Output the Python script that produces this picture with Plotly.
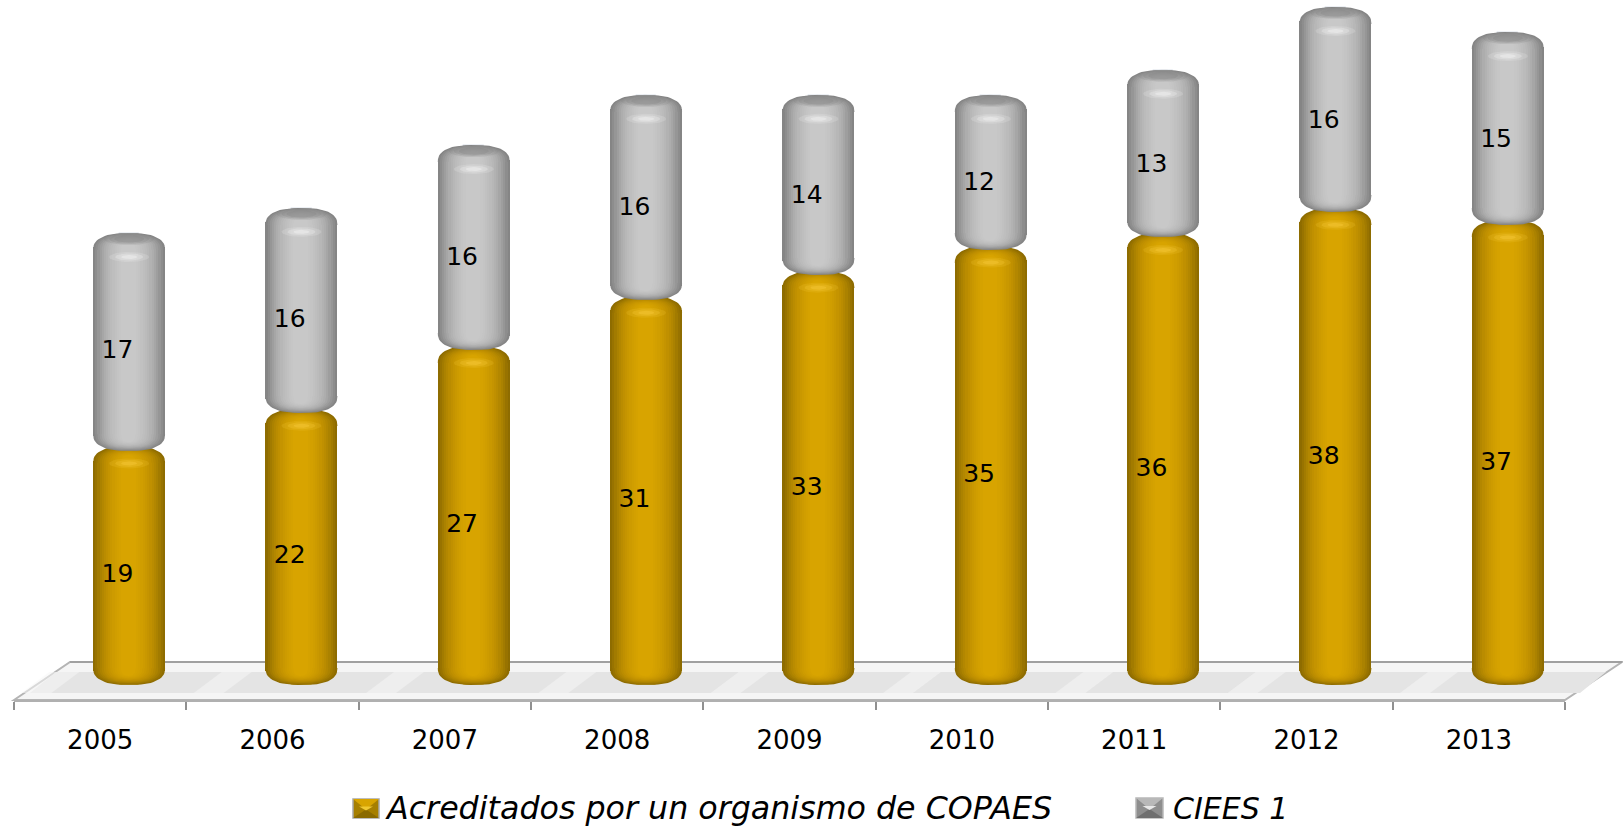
import numpy as np
import plotly.graph_objects as go

years = ["2005", "2006", "2007", "2008", "2009", "2010", "2011", "2012", "2013"]
copaes = [19, 22, 27, 31, 33, 35, 36, 38, 37]
ciees = [17, 16, 16, 16, 14, 12, 13, 16, 15]
name_copaes = "Acreditados por un organismo de COPAES"
name_ciees = "CIEES 1"

W, H = 1623, 828
L, R, AXIS_Y = 14, 1565, 700
PX_X = (R - L) / 9
PX_Y = 12.556
ZERO_PX = 685
BAR_OFF = 0.168
LABEL_OFF = 0.1
FONT = "DejaVu Sans"

orange_stops = ["#8E6C00", "#A98000", "#BC8D00", "#C99800", "#D2A000", "#D8A400"]
grey_stops = ["#858585", "#9C9C9C", "#AFAFAF", "#BBBBBB", "#C3C3C3", "#C8C8C8"]


def hex2rgb(c):
    return np.array([int(c[i:i + 2], 16) for i in (1, 3, 5)], float)


def ramp(stops, t):
    p = t * (len(stops) - 1)
    i = min(int(p), len(stops) - 2)
    c = hex2rgb(stops[i]) * (1 - (p - i)) + hex2rgb(stops[i + 1]) * (p - i)
    return "rgb(%d,%d,%d)" % tuple(c)


def snap(y):
    # keep a flat polygon edge on a whole pixel row so stacked layers leave no seam
    return (ZERO_PX - round(ZERO_PX - y * PX_Y)) / PX_Y


x = np.arange(len(years))
xb = x + BAR_OFF
cop = np.array(copaes, float)
cie = np.array(ciees, float)
OVERLAP = 0.35
CAP_PX = 17
SEAM_PX = 2.5
NL = 14

fig = go.Figure()
# the plain stacked values, under the shaded layers
fig.add_trace(go.Bar(x=xb, y=cop, base=0, width=0.12, marker_color="#D8A400", showlegend=False, hoverinfo="skip"))
fig.add_trace(go.Bar(x=xb, y=cie, base=cop, width=0.12, marker_color="#C8C8C8", showlegend=False, hoverinfo="skip"))


def half_cap(xc, y0, sign, hw, ry):
    th = np.linspace(0, np.pi, 32)
    n = 2.5
    xs = xc + hw / PX_X * np.sign(np.cos(th)) * np.abs(np.cos(th)) ** (2 / n)
    ys = y0 + sign * ry / PX_Y * np.abs(np.sin(th)) ** (2 / n)
    return list(xs) + [None], list(ys) + [None]


def cylinder(base, vals, stops):
    cap = (CAP_PX - SEAM_PX) / PX_Y
    for k in range(NL):
        t = k / (NL - 1)
        hw = 36 - 2.2 * k
        shift = -0.8 * t / PX_X
        fig.add_trace(go.Bar(
            x=xb + shift, y=vals - 2 * cap, base=base + cap, width=2 * hw / PX_X,
            marker=dict(color=ramp(stops, t), line_width=0), showlegend=False, hoverinfo="skip"))


def caps(base, vals, stops):
    cap = CAP_PX / PX_Y
    for k in range(NL):
        t = k / (NL - 1)
        hw = 36 - 2.2 * k
        ry = CAP_PX - 0.7 * k
        shift = -0.8 * t / PX_X
        xs, ys = [], []
        for xc, b, v in zip(xb + shift, base, vals):
            for y0, sign in ((snap(b + cap), -1), (snap(b + v - cap), 1)):
                a, c = half_cap(xc, y0, sign, hw, ry)
                xs += a
                ys += c
        fig.add_trace(go.Scatter(x=xs, y=ys, mode="lines", fill="toself", fillcolor=ramp(stops, t),
                                 line=dict(width=0), showlegend=False, hoverinfo="skip"))


def ellipses(xc, yc, rx_px, ry_px, color, opacity):
    th = np.linspace(0, 2 * np.pi, 40)
    xs, ys = [], []
    for a, b in zip(xc, yc):
        xs += list(a + rx_px / PX_X * np.cos(th)) + [None]
        ys += list(b + ry_px / PX_Y * np.sin(th)) + [None]
    fig.add_trace(go.Scatter(x=xs, y=ys, mode="lines", fill="toself", fillcolor=color, opacity=opacity,
                             line=dict(width=0), showlegend=False, hoverinfo="skip"))


base_o = np.zeros_like(cop)
base_g = cop - OVERLAP
val_g = cie + OVERLAP
tot = cop + cie

cylinder(base_o, cop, orange_stops)
cylinder(base_g, val_g, grey_stops)
caps(base_o, cop, orange_stops)
# highlight on the orange shoulder, drawn before the grey bottom covers the seam
for s, op in ((1.0, 0.2), (0.7, 0.3), (0.4, 0.45)):
    ellipses(xb, cop - 17 / PX_Y, 20 * s, 5 * s, "#F6C838", op)
caps(base_g, val_g, grey_stops)
# dark cap on the grey tops
for s, op in ((1.0, 0.22), (0.8, 0.3), (0.6, 0.35)):
    ellipses(xb, tot - 6 / PX_Y, 25 * s, 6 * s, "#858585", op)
for s, op in ((1.0, 0.2), (0.7, 0.3), (0.4, 0.45)):
    ellipses(xb, tot - 24 / PX_Y, 20 * s, 5 * s, "#F2F2F2", op)

# value labels
txt_font = dict(family=FONT, size=25, color="#000000")
for base, vals in ((np.zeros_like(cop), cop), (cop, cie)):
    fig.add_trace(go.Scatter(
        x=x + LABEL_OFF, y=0.989 * (base + vals / 2) - 0.66, mode="text",
        text=[str(int(v)) for v in vals], textfont=txt_font, textposition="middle center",
        showlegend=False, hoverinfo="skip"))

# legend entries: swatches are drawn as shapes because legend markers are capped at 16 px
for nm, lg in ((name_copaes, "legend"), (name_ciees, "legend2")):
    fig.add_trace(go.Scatter(
        x=[None], y=[None], mode="markers", name=nm, legend=lg, showlegend=True,
        marker=dict(symbol="square", size=16, color="rgba(0,0,0,0)", line=dict(width=0))))


def px(xp):
    return (xp - L) / (R - L)


def py(yp):
    return (AXIS_Y - yp) / AXIS_Y


def poly(pts):
    return "M " + " L ".join("%.5f,%.5f" % (px(a), py(b)) for a, b in pts) + " Z"


def shape(pts, fill, line=None, layer="below"):
    return dict(type="path", xref="paper", yref="paper", layer=layer, path=poly(pts), fillcolor=fill,
                line=line or dict(width=0))


shapes = [
    shape([(14, 700), (70, 662), (1622, 662), (1565, 700)], "#F5F5F5", dict(color="#B4B4B4", width=2)),
    shape([(30, 693), (56, 672), (1606, 672), (1580, 693)], "#E4E4E4"),
]
for i in range(9):
    c = L + (i + 0.17) * PX_X
    shapes.append(shape([(c - 22, 693), (c + 6, 672), (c + 36, 672), (c + 8, 693)], "rgba(246,246,246,0.55)"))
shapes.append(dict(type="line", xref="paper", yref="paper", layer="below", x0=px(70), x1=px(1622),
                   y0=py(662), y1=py(662), line=dict(color="#A0A0A0", width=2)))


def swatch(x0, x1, y0, y1, top, side, bottom, hi, edge):
    cx, cy = (x0 + x1) / 2, (y0 + y1) / 2 + 1
    out = [
        shape([(x0, y0), (x1, y0), (x1, y1), (x0, y1)], side, dict(color=edge, width=1.5)),
        shape([(x0, y0), (x1, y0), (cx, cy)], top),
        shape([(x0, y1), (x1, y1), (cx, cy)], bottom),
        shape([(cx - 7, cy - 3), (cx + 7, cy - 3), (cx, cy + 1)], hi),
    ]
    return out


shapes += swatch(353, 379, 799, 818, "#D8A400", "#A67F00", "#8A6A00", "#F0C830", "#A8A8A8")
shapes += swatch(1136, 1163, 798, 818, "#B8B8B8", "#8E8E8E", "#6F6F6F", "#E8E8E8", "#B8B8B8")

legend_style = dict(orientation="h", xanchor="left", yanchor="middle", y=py(807),
                    itemsizing="trace", itemwidth=30, bgcolor="rgba(0,0,0,0)")

fig.update_layout(
    width=W, height=H, autosize=False,
    barmode="overlay", bargap=0,
    margin=dict(l=L, r=W - R, t=0, b=H - AXIS_Y, pad=0, autoexpand=False),
    paper_bgcolor="#FFFFFF", plot_bgcolor="rgba(0,0,0,0)",
    font=dict(family=FONT, color="#000000"),
    shapes=shapes,
    hovermode=False,
    legend=dict(x=px(347), font=dict(family=FONT, size=31.7, style="italic", color="#000000"), **legend_style),
    legend2=dict(x=px(1133), font=dict(family=FONT, size=30, style="italic", color="#000000"), **legend_style),
    xaxis=dict(
        range=[-0.5, 8.5], tickmode="array", tickvals=list(x), ticktext=years,
        ticks="", showgrid=False, zeroline=False, showline=True, linecolor="#B0B0B0", linewidth=2,
        tickfont=dict(family=FONT, size=26, color="#000000"), ticklabelstandoff=16,
        minor=dict(tickmode="linear", tick0=-0.5, dtick=1, ticks="outside", ticklen=8, tickwidth=2,
                   tickcolor="#909090", showgrid=False),
    ),
    yaxis=dict(range=[(ZERO_PX - AXIS_Y) / PX_Y, ZERO_PX / PX_Y], visible=False),
)

fig.write_html("out.html", config=dict(displayModeBar=False),
               post_script="document.body.style.margin='0';document.body.style.overflow='hidden';")
